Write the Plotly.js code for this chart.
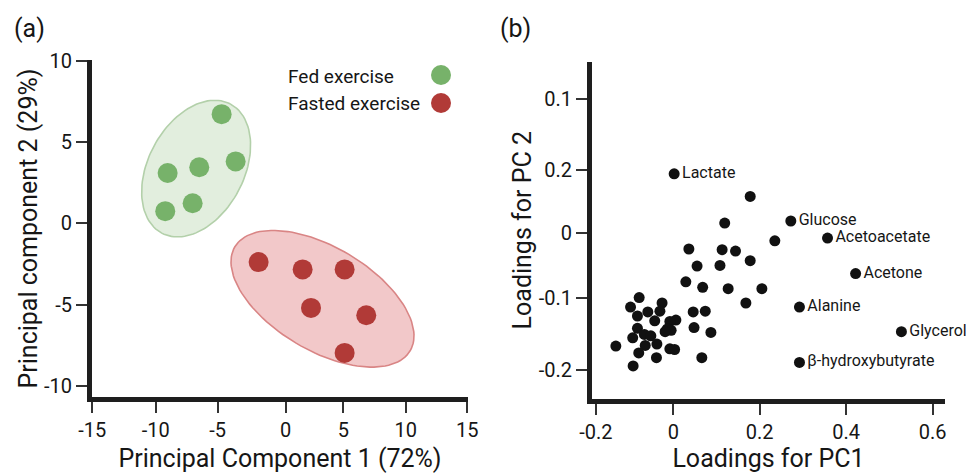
<!DOCTYPE html>
<html>
<head>
<meta charset="utf-8">
<script src="https://cdn.plot.ly/plotly-3.0.1.min.js"></script>
<style>
  html, body { margin: 0; padding: 0; background: #fff; }
  #chart { width: 966px; height: 473px; }
</style>
</head>
<body>
<div id="chart"></div>
<script>
// ---------- Panel (a): PCA scores ----------
const groupNames = ['Fed exercise', 'Fasted exercise'];
const fedX = [-4.65, -3.53, -6.44, -8.97, -6.97, -9.16];
const fedY = [6.71, 3.80, 3.44, 3.09, 1.23, 0.74];
const fastedX = [-1.69, 1.83, 5.19, 2.50, 6.92, 5.19];
const fastedY = [-2.39, -2.84, -2.84, -5.21, -5.66, -7.98];

const pcaXTickVals = [-15, -9.93, -4.97, 0.47, 5.08, 10.07, 15];
const pcaXTickText = ['-15', '-10', '-5', '0', '5', '10', '15'];
const pcaYTickVals = [10, 5, 0, -5, -10];
const pcaYTickText = ['10', '5', '0', '-5', '-10'];

// ---------- Panel (b): loadings ----------
const labeledNames = ['Lactate', 'Glucose', 'Acetoacetate', 'Acetone', 'Alanine', 'Glycerol', 'β-hydroxybutyrate'];
const labeledX = [0.002, 0.272, 0.357, 0.422, 0.292, 0.528, 0.292];
const labeledY = [0.087, 0.018, -0.007, -0.059, -0.108, -0.144, -0.189];

const otherX = [0.178, 0.119, 0.235, 0.036, 0.113, 0.144, 0.178, 0.055, 0.108, 0.029,
                0.068, 0.127, 0.205, 0.168, -0.079, -0.099, -0.026, -0.059, -0.031, -0.083,
                -0.043, 0.006, -0.008, 0.046, 0.074, -0.083, -0.014, -0.005, -0.019, -0.067,
                -0.052, 0.048, 0.087, -0.094, -0.038, -0.065, -0.133, -0.080, -0.008, 0.003,
                -0.039, 0.066, -0.093];
const otherY = [0.054, 0.015, -0.011, -0.023, -0.024, -0.026, -0.040, -0.048, -0.047, -0.071,
                -0.079, -0.081, -0.081, -0.102, -0.094, -0.108, -0.102, -0.115, -0.114, -0.121,
                -0.128, -0.127, -0.129, -0.115, -0.114, -0.139, -0.140, -0.142, -0.144, -0.148,
                -0.150, -0.138, -0.145, -0.153, -0.162, -0.164, -0.165, -0.175, -0.169, -0.170,
                -0.182, -0.182, -0.194];

const loadXTickVals = [-0.179, 0, 0.2, 0.4, 0.6];
const loadXTickText = ['-0.2', '0', '0.2', '0.4', '0.6'];
const loadYTickVals = [0.196, 0.093, 0, -0.095, -0.2];
const loadYTickText = ['0.1', '0.2', '0', '-0.1', '-0.2'];

// ---------- Styling ----------
const FONT = 'Roboto, Arial, sans-serif';
const INK = '#161616';
const greenMarker = '#77b26a';
const greenFill = 'rgba(221,235,216,0.85)';
const greenLine = '#b3d0aa';
const redMarker = '#b13a37';
const redFill = 'rgba(240,190,191,0.85)';
const redLine = '#d98585';

// confidence ellipses: center plus two conjugate semi-diameters (data units)
const ellipses = [
  {c: [-6.69, 3.36], u: [2.75, 3.97], v: [3.38, -1.38], fill: greenFill, line: greenLine},
  {c: [3.42, -4.65], u: [7.01, -3.20], v: [-2.11, -2.73], fill: redFill, line: redLine}
];

function ellipseTrace(e) {
  const xs = [], ys = [];
  for (let i = 0; i <= 120; i++) {
    const t = 2 * Math.PI * i / 120;
    xs.push(e.c[0] + e.u[0] * Math.cos(t) + e.v[0] * Math.sin(t));
    ys.push(e.c[1] + e.u[1] * Math.cos(t) + e.v[1] * Math.sin(t));
  }
  return {x: xs, y: ys, xaxis: 'x', yaxis: 'y', mode: 'lines', fill: 'toself',
          fillcolor: e.fill, line: {color: e.line, width: 1.6}, hoverinfo: 'skip', showlegend: false};
}

const traces = [
  ellipseTrace(ellipses[0]),
  ellipseTrace(ellipses[1]),
  {x: fedX, y: fedY, xaxis: 'x', yaxis: 'y', mode: 'markers', name: groupNames[0],
   marker: {color: greenMarker, size: 20}, showlegend: false, cliponaxis: false},
  {x: fastedX, y: fastedY, xaxis: 'x', yaxis: 'y', mode: 'markers', name: groupNames[1],
   marker: {color: redMarker, size: 20}, showlegend: false, cliponaxis: false},
  {x: otherX, y: otherY, xaxis: 'x2', yaxis: 'y2', mode: 'markers',
   marker: {color: '#111111', size: 11}, showlegend: false, cliponaxis: false},
  {x: labeledX, y: labeledY, xaxis: 'x2', yaxis: 'y2', mode: 'markers+text',
   text: labeledNames, textposition: 'middle right',
   textfont: {family: FONT, size: 16, color: INK},
   marker: {color: '#111111', size: 11}, showlegend: false, cliponaxis: false}
];

const W = 966, H = 473;
const px = v => v / W;
const py = v => 1 - v / H;

const axisCommon = {
  showline: true, linewidth: 5, linecolor: '#1e1e1e',
  ticks: 'outside', ticklen: 11, tickwidth: 2, tickcolor: '#333333',
  showgrid: false, zeroline: false,
  tickfont: {family: FONT, size: 20, color: INK},
  tickmode: 'array', fixedrange: true
};

const titleFont = {family: FONT, size: 25, color: INK};

const layout = {
  width: W, height: H,
  margin: {l: 0, r: 0, t: 0, b: 0},
  paper_bgcolor: '#ffffff', plot_bgcolor: '#ffffff',
  font: {family: FONT, color: INK},
  showlegend: false,
  xaxis: Object.assign({}, axisCommon, {
    domain: [px(92), px(468)], range: [-15.02, 15.06], anchor: 'y',
    tickvals: pcaXTickVals, ticktext: pcaXTickText,
    title: {text: 'Principal Component 1 (72%)', font: titleFont, standoff: 12}
  }),
  yaxis: Object.assign({}, axisCommon, {
    domain: [1 - 397 / H, 1 - 60 / H], range: [-10.69, 10.04], anchor: 'x',
    tickvals: pcaYTickVals, ticktext: pcaYTickText,
    title: {text: 'Principal component 2 (29%)', font: titleFont, standoff: 1}
  }),
  xaxis2: Object.assign({}, axisCommon, {
    domain: [px(592), px(945)], range: [-0.1882, 0.6289], anchor: 'y2',
    tickvals: loadXTickVals, ticktext: loadXTickText,
    title: {text: 'Loadings for PC1', font: titleFont, standoff: 12}
  }),
  yaxis2: Object.assign({}, axisCommon, {
    domain: [1 - 398.5 / H, 1 - 62 / H], range: [-0.2417, 0.2506], anchor: 'x2',
    tickvals: loadYTickVals, ticktext: loadYTickText,
    title: {text: 'Loadings for PC 2', font: titleFont, standoff: 1}
  }),
  annotations: [
    {text: '(a)', xref: 'paper', yref: 'paper', x: px(12), y: py(28), xanchor: 'left', yanchor: 'middle',
     showarrow: false, font: {family: FONT, size: 25, color: INK}},
    {text: '(b)', xref: 'paper', yref: 'paper', x: px(498), y: py(28), xanchor: 'left', yanchor: 'middle',
     showarrow: false, font: {family: FONT, size: 25, color: INK}},
    {text: groupNames[0], xref: 'paper', yref: 'paper', x: px(286), y: py(76), xanchor: 'left', yanchor: 'middle',
     showarrow: false, font: {family: FONT, size: 19, color: INK}},
    {text: groupNames[1], xref: 'paper', yref: 'paper', x: px(286), y: py(103), xanchor: 'left', yanchor: 'middle',
     showarrow: false, font: {family: FONT, size: 19, color: INK}}
  ],
  shapes: [
    {type: 'circle', xref: 'paper', yref: 'paper', xsizemode: 'pixel', ysizemode: 'pixel',
     xanchor: px(441), yanchor: py(75), x0: -10, x1: 10, y0: -10, y1: 10,
     fillcolor: greenMarker, line: {width: 0}},
    {type: 'circle', xref: 'paper', yref: 'paper', xsizemode: 'pixel', ysizemode: 'pixel',
     xanchor: px(441), yanchor: py(103), x0: -10, x1: 10, y0: -10, y1: 10,
     fillcolor: redMarker, line: {width: 0}}
  ]
};

Plotly.newPlot('chart', traces, layout, {displayModeBar: false, staticPlot: true});
</script>
</body>
</html>
